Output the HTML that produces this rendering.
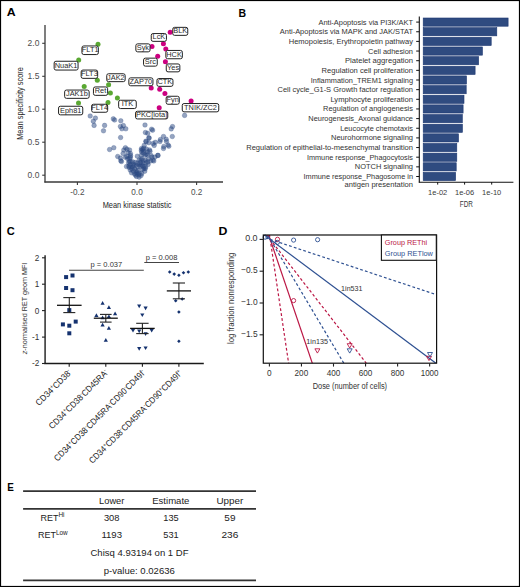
<!DOCTYPE html>
<html><head><meta charset="utf-8"><style>
html,body{margin:0;padding:0;background:#fff;}
body{width:520px;height:587px;overflow:hidden;}
svg{display:block;}
text{font-family:"Liberation Sans",sans-serif;}
</style></head><body>
<svg width="520" height="587" viewBox="0 0 520 587">
<rect x="0" y="0" width="520" height="587" fill="#fff"/>
<text x="6.7" y="16.3" font-size="11.4" fill="#000" textLength="8.9" lengthAdjust="spacingAndGlyphs" font-weight="bold">A</text>
<text x="238.4" y="16.5" font-size="11.4" fill="#000" textLength="7.6" lengthAdjust="spacingAndGlyphs" font-weight="bold">B</text>
<text x="6.8" y="234.8" font-size="11.4" fill="#000" textLength="8.0" lengthAdjust="spacingAndGlyphs" font-weight="bold">C</text>
<text x="218.6" y="234.9" font-size="11.4" fill="#000" textLength="8.9" lengthAdjust="spacingAndGlyphs" font-weight="bold">D</text>
<text x="7.3" y="490.7" font-size="11.4" fill="#000" textLength="6.6" lengthAdjust="spacingAndGlyphs" font-weight="bold">E</text>
<line x1="45.00" y1="25.00" x2="45.00" y2="182.60" stroke="#3a3a3a" stroke-width="1.3"/>
<line x1="44.40" y1="182.00" x2="223.00" y2="182.00" stroke="#3a3a3a" stroke-width="1.3"/>
<line x1="42.20" y1="43.30" x2="45.00" y2="43.30" stroke="#3a3a3a" stroke-width="1.1"/>
<text x="39.4" y="46.3" font-size="8.5" fill="#4d4d4d" text-anchor="end" textLength="11.8" lengthAdjust="spacingAndGlyphs">2.0</text>
<line x1="42.20" y1="76.30" x2="45.00" y2="76.30" stroke="#3a3a3a" stroke-width="1.1"/>
<text x="39.4" y="79.3" font-size="8.5" fill="#4d4d4d" text-anchor="end" textLength="11.8" lengthAdjust="spacingAndGlyphs">1.5</text>
<line x1="42.20" y1="109.20" x2="45.00" y2="109.20" stroke="#3a3a3a" stroke-width="1.1"/>
<text x="39.4" y="112.2" font-size="8.5" fill="#4d4d4d" text-anchor="end" textLength="11.8" lengthAdjust="spacingAndGlyphs">1.0</text>
<line x1="42.20" y1="142.20" x2="45.00" y2="142.20" stroke="#3a3a3a" stroke-width="1.1"/>
<text x="39.4" y="145.2" font-size="8.5" fill="#4d4d4d" text-anchor="end" textLength="11.8" lengthAdjust="spacingAndGlyphs">0.5</text>
<line x1="42.20" y1="175.20" x2="45.00" y2="175.20" stroke="#3a3a3a" stroke-width="1.1"/>
<text x="39.4" y="178.2" font-size="8.5" fill="#4d4d4d" text-anchor="end" textLength="11.8" lengthAdjust="spacingAndGlyphs">0.0</text>
<line x1="77.40" y1="182.00" x2="77.40" y2="184.90" stroke="#3a3a3a" stroke-width="1.1"/>
<text x="77.4" y="194.9" font-size="8.2" fill="#4d4d4d" text-anchor="middle">-0.2</text>
<line x1="137.00" y1="182.00" x2="137.00" y2="184.90" stroke="#3a3a3a" stroke-width="1.1"/>
<text x="137.0" y="194.9" font-size="8.2" fill="#4d4d4d" text-anchor="middle">0.0</text>
<line x1="196.60" y1="182.00" x2="196.60" y2="184.90" stroke="#3a3a3a" stroke-width="1.1"/>
<text x="196.6" y="194.9" font-size="8.2" fill="#4d4d4d" text-anchor="middle">0.2</text>
<text x="137.1" y="208.1" font-size="9.6" fill="#262626" text-anchor="middle" textLength="68.8" lengthAdjust="spacingAndGlyphs">Mean kinase statistic</text>
<text transform="translate(22.6,103.5) rotate(-90)" font-size="9.6" fill="#262626" text-anchor="middle" textLength="72.6" lengthAdjust="spacingAndGlyphs">Mean specificity score</text>
<g fill="#2c4982" fill-opacity="0.5" stroke="#2c4982" stroke-opacity="0.55" stroke-width="0.5">
<circle cx="90.2" cy="116.0" r="2.3"/>
<circle cx="95.4" cy="118.1" r="2.3"/>
<circle cx="93.3" cy="121.2" r="2.3"/>
<circle cx="94.1" cy="125.4" r="2.3"/>
<circle cx="104.6" cy="125.4" r="2.3"/>
<circle cx="103.5" cy="130.8" r="2.3"/>
<circle cx="113.3" cy="118.8" r="2.3"/>
<circle cx="114.6" cy="120.0" r="2.3"/>
<circle cx="120.8" cy="120.8" r="2.3"/>
<circle cx="120.4" cy="126.5" r="2.3"/>
<circle cx="123.4" cy="125.6" r="2.3"/>
<circle cx="121.9" cy="128.8" r="2.3"/>
<circle cx="125.8" cy="128.8" r="2.3"/>
<circle cx="120.6" cy="137.5" r="2.3"/>
<circle cx="145.0" cy="125.0" r="2.3"/>
<circle cx="151.6" cy="129.2" r="2.3"/>
<circle cx="152.6" cy="130.2" r="2.3"/>
<circle cx="145.4" cy="132.5" r="2.3"/>
<circle cx="147.7" cy="133.3" r="2.3"/>
<circle cx="148.8" cy="137.7" r="2.3"/>
<circle cx="184.6" cy="115.4" r="2.3"/>
<circle cx="172.5" cy="126.6" r="2.3"/>
<circle cx="171.2" cy="128.9" r="2.3"/>
<circle cx="172.3" cy="136.5" r="2.3"/>
<circle cx="163.5" cy="136.5" r="2.3"/>
<circle cx="166.2" cy="139.3" r="2.3"/>
<circle cx="166.5" cy="141.5" r="2.3"/>
<circle cx="160.4" cy="139.6" r="2.3"/>
<circle cx="160.0" cy="141.5" r="2.3"/>
<circle cx="149.2" cy="138.1" r="2.3"/>
<circle cx="145.8" cy="141.2" r="2.3"/>
<circle cx="148.8" cy="142.7" r="2.3"/>
<circle cx="153.1" cy="143.5" r="2.3"/>
<circle cx="155.4" cy="142.3" r="2.3"/>
<circle cx="154.2" cy="145.4" r="2.3"/>
<circle cx="163.8" cy="146.5" r="2.3"/>
<circle cx="163.5" cy="148.5" r="2.3"/>
<circle cx="168.1" cy="145.0" r="2.3"/>
<circle cx="168.8" cy="146.2" r="2.3"/>
<circle cx="144.2" cy="145.4" r="2.3"/>
<circle cx="142.7" cy="149.2" r="2.3"/>
<circle cx="141.9" cy="152.3" r="2.3"/>
<circle cx="149.6" cy="150.0" r="2.3"/>
<circle cx="158.1" cy="155.4" r="2.3"/>
<circle cx="137.3" cy="156.2" r="2.3"/>
<circle cx="146.2" cy="141.7" r="2.3"/>
<circle cx="109.6" cy="149.5" r="2.3"/>
<circle cx="113.8" cy="147.7" r="2.3"/>
<circle cx="125.4" cy="147.7" r="2.3"/>
<circle cx="126.9" cy="149.2" r="2.3"/>
<circle cx="129.6" cy="150.0" r="2.3"/>
<circle cx="123.8" cy="150.0" r="2.3"/>
<circle cx="123.1" cy="153.5" r="2.3"/>
<circle cx="128.1" cy="152.7" r="2.3"/>
<circle cx="130.4" cy="153.5" r="2.3"/>
<circle cx="117.7" cy="156.5" r="2.3"/>
<circle cx="120.4" cy="158.1" r="2.3"/>
<circle cx="120.8" cy="160.8" r="2.3"/>
<circle cx="125.4" cy="157.3" r="2.3"/>
<circle cx="127.7" cy="158.8" r="2.3"/>
<circle cx="130.4" cy="157.3" r="2.3"/>
<circle cx="121.5" cy="161.5" r="2.3"/>
<circle cx="126.5" cy="166.5" r="2.3"/>
<circle cx="145.4" cy="168.5" r="2.3"/>
<circle cx="157.7" cy="155.4" r="2.3"/>
<circle cx="153.0" cy="160.0" r="2.3"/>
<circle cx="150.0" cy="151.3" r="2.3"/>
<circle cx="151.9" cy="157.1" r="2.3"/>
<circle cx="146.2" cy="154.2" r="2.3"/>
<circle cx="153.8" cy="161.0" r="2.3"/>
<circle cx="141.3" cy="150.4" r="2.3"/>
<circle cx="141.7" cy="158.5" r="2.3"/>
<circle cx="139.3" cy="164.5" r="2.3"/>
<circle cx="129.2" cy="167.4" r="2.3"/>
<circle cx="128.8" cy="165.9" r="2.3"/>
<circle cx="136.9" cy="174.0" r="2.3"/>
<circle cx="130.6" cy="161.6" r="2.3"/>
<circle cx="146.0" cy="162.9" r="2.3"/>
<circle cx="134.5" cy="173.7" r="2.3"/>
<circle cx="131.8" cy="168.9" r="2.3"/>
<circle cx="141.4" cy="164.6" r="2.3"/>
<circle cx="129.3" cy="161.2" r="2.3"/>
<circle cx="142.3" cy="165.8" r="2.3"/>
<circle cx="134.6" cy="169.0" r="2.3"/>
<circle cx="137.5" cy="163.1" r="2.3"/>
<circle cx="144.7" cy="171.3" r="2.3"/>
<circle cx="139.0" cy="174.9" r="2.3"/>
<circle cx="143.3" cy="162.9" r="2.3"/>
<circle cx="136.8" cy="172.5" r="2.3"/>
<circle cx="131.2" cy="167.0" r="2.3"/>
<circle cx="144.1" cy="168.7" r="2.3"/>
<circle cx="142.6" cy="169.2" r="2.3"/>
<circle cx="140.2" cy="166.4" r="2.3"/>
<circle cx="138.0" cy="170.6" r="2.3"/>
<circle cx="136.1" cy="170.7" r="2.3"/>
<circle cx="133.8" cy="165.5" r="2.3"/>
<circle cx="135.5" cy="175.1" r="2.3"/>
<circle cx="132.9" cy="166.9" r="2.3"/>
<circle cx="140.4" cy="162.4" r="2.3"/>
<circle cx="136.2" cy="165.2" r="2.3"/>
<circle cx="130.2" cy="170.0" r="2.3"/>
<circle cx="130.1" cy="164.5" r="2.3"/>
<circle cx="140.9" cy="160.0" r="2.3"/>
<circle cx="133.3" cy="164.1" r="2.3"/>
<circle cx="137.8" cy="166.9" r="2.3"/>
<circle cx="135.2" cy="162.4" r="2.3"/>
<circle cx="145.4" cy="160.3" r="2.3"/>
<circle cx="139.1" cy="160.0" r="2.3"/>
<circle cx="139.1" cy="177.1" r="2.3"/>
<circle cx="131.5" cy="172.8" r="2.3"/>
<circle cx="139.2" cy="173.0" r="2.3"/>
<circle cx="128.6" cy="162.7" r="2.3"/>
<circle cx="133.4" cy="171.2" r="2.3"/>
<circle cx="148.1" cy="164.5" r="2.3"/>
<circle cx="132.6" cy="161.7" r="2.3"/>
<circle cx="141.1" cy="175.5" r="2.3"/>
<circle cx="145.6" cy="166.8" r="2.3"/>
<circle cx="141.7" cy="173.4" r="2.3"/>
<circle cx="143.8" cy="166.8" r="2.3"/>
<circle cx="136.4" cy="176.4" r="2.3"/>
<circle cx="143.2" cy="160.5" r="2.3"/>
<circle cx="141.5" cy="148.6" r="2.3"/>
<circle cx="145.1" cy="155.3" r="2.3"/>
<circle cx="155.0" cy="157.0" r="2.3"/>
<circle cx="147.9" cy="161.9" r="2.3"/>
<circle cx="143.5" cy="151.0" r="2.3"/>
<circle cx="143.6" cy="153.1" r="2.3"/>
<circle cx="147.5" cy="155.0" r="2.3"/>
<circle cx="146.5" cy="149.1" r="2.3"/>
<circle cx="151.1" cy="155.5" r="2.3"/>
<circle cx="148.4" cy="159.3" r="2.3"/>
<circle cx="141.2" cy="155.5" r="2.3"/>
<circle cx="150.7" cy="160.9" r="2.3"/>
<circle cx="147.7" cy="151.8" r="2.3"/>
<circle cx="143.8" cy="148.2" r="2.3"/>
<circle cx="130.6" cy="155.6" r="2.3"/>
<circle cx="126.8" cy="156.4" r="2.3"/>
<circle cx="129.7" cy="158.5" r="2.3"/>
</g>
<circle cx="98" cy="44.2" r="2.5" fill="#5aa832"/>
<circle cx="78.7" cy="59.9" r="2.5" fill="#5aa832"/>
<circle cx="97.3" cy="80.2" r="2.5" fill="#5aa832"/>
<circle cx="108.6" cy="84.7" r="2.5" fill="#5aa832"/>
<circle cx="84.2" cy="86.5" r="2.5" fill="#5aa832"/>
<circle cx="110.4" cy="93.1" r="2.5" fill="#5aa832"/>
<circle cx="117.4" cy="98" r="2.5" fill="#5aa832"/>
<circle cx="78.5" cy="103" r="2.5" fill="#5aa832"/>
<circle cx="108" cy="102.6" r="2.5" fill="#5aa832"/>
<circle cx="170.2" cy="32.2" r="2.5" fill="#cc0080"/>
<circle cx="163.4" cy="43.8" r="2.5" fill="#cc0080"/>
<circle cx="165.8" cy="48.9" r="2.5" fill="#cc0080"/>
<circle cx="152" cy="46.5" r="2.5" fill="#cc0080"/>
<circle cx="157.7" cy="56.2" r="2.5" fill="#cc0080"/>
<circle cx="165.4" cy="61.8" r="2.5" fill="#cc0080"/>
<circle cx="151.2" cy="88" r="2.5" fill="#cc0080"/>
<circle cx="159.7" cy="89.3" r="2.5" fill="#cc0080"/>
<circle cx="164.9" cy="93.5" r="2.5" fill="#cc0080"/>
<circle cx="191.1" cy="101.1" r="2.5" fill="#cc0080"/>
<circle cx="159.2" cy="107.8" r="2.5" fill="#cc0080"/>
<rect x="81.95" y="45.95" width="16.40" height="8.60" rx="1.8" fill="#fff" stroke="#222" stroke-width="1.0"/>
<text x="90.2" y="52.2" font-size="7.4" fill="#2a2a2a" text-anchor="middle">FLT1</text>
<rect x="54.15" y="61.25" width="23.90" height="8.80" rx="1.8" fill="#fff" stroke="#222" stroke-width="1.0"/>
<text x="66.1" y="67.6" font-size="7.4" fill="#2a2a2a" text-anchor="middle">NuaK1</text>
<rect x="81.15" y="70.05" width="16.50" height="8.30" rx="1.8" fill="#fff" stroke="#222" stroke-width="1.0"/>
<text x="89.4" y="76.1" font-size="7.4" fill="#2a2a2a" text-anchor="middle">FLT3</text>
<rect x="106.75" y="73.75" width="18.40" height="7.90" rx="1.8" fill="#fff" stroke="#222" stroke-width="1.0"/>
<text x="115.9" y="79.6" font-size="7.4" fill="#2a2a2a" text-anchor="middle">JAK2</text>
<rect x="64.65" y="90.05" width="24.50" height="8.30" rx="1.8" fill="#fff" stroke="#222" stroke-width="1.0"/>
<text x="76.9" y="96.1" font-size="7.4" fill="#2a2a2a" text-anchor="middle">JAK1b</text>
<rect x="93.45" y="86.95" width="14.20" height="8.40" rx="1.8" fill="#fff" stroke="#222" stroke-width="1.0"/>
<text x="100.5" y="93.1" font-size="7.4" fill="#2a2a2a" text-anchor="middle">Ret</text>
<rect x="58.55" y="106.25" width="24.20" height="8.60" rx="1.8" fill="#fff" stroke="#222" stroke-width="1.0"/>
<text x="70.7" y="112.5" font-size="7.4" fill="#2a2a2a" text-anchor="middle">Eph81</text>
<rect x="91.65" y="104.25" width="16.00" height="8.00" rx="1.8" fill="#fff" stroke="#222" stroke-width="1.0"/>
<text x="99.7" y="110.2" font-size="7.4" fill="#2a2a2a" text-anchor="middle">FLT4</text>
<rect x="118.65" y="100.25" width="17.60" height="8.30" rx="1.8" fill="#fff" stroke="#222" stroke-width="1.0"/>
<text x="127.4" y="106.4" font-size="7.4" fill="#2a2a2a" text-anchor="middle">ITK</text>
<rect x="172.75" y="27.35" width="15.00" height="8.00" rx="1.8" fill="#fff" stroke="#222" stroke-width="1.0"/>
<text x="180.2" y="33.3" font-size="7.4" fill="#2a2a2a" text-anchor="middle">BLK</text>
<rect x="151.25" y="33.55" width="15.20" height="7.80" rx="1.8" fill="#fff" stroke="#222" stroke-width="1.0"/>
<text x="158.9" y="39.4" font-size="7.4" fill="#2a2a2a" text-anchor="middle">LcK</text>
<rect x="135.85" y="43.85" width="14.20" height="8.00" rx="1.8" fill="#fff" stroke="#222" stroke-width="1.0"/>
<text x="142.9" y="49.8" font-size="7.4" fill="#2a2a2a" text-anchor="middle">Syk</text>
<rect x="143.55" y="58.15" width="13.70" height="8.00" rx="1.8" fill="#fff" stroke="#222" stroke-width="1.0"/>
<text x="150.4" y="64.1" font-size="7.4" fill="#2a2a2a" text-anchor="middle">Src</text>
<rect x="165.85" y="50.45" width="16.50" height="8.30" rx="1.8" fill="#fff" stroke="#222" stroke-width="1.0"/>
<text x="174.1" y="56.6" font-size="7.4" fill="#2a2a2a" text-anchor="middle">HCK</text>
<rect x="166.25" y="63.95" width="13.60" height="7.90" rx="1.8" fill="#fff" stroke="#222" stroke-width="1.0"/>
<text x="173.1" y="69.9" font-size="7.4" fill="#2a2a2a" text-anchor="middle">Yes</text>
<rect x="128.85" y="77.85" width="24.10" height="7.90" rx="1.8" fill="#fff" stroke="#222" stroke-width="1.0"/>
<text x="140.9" y="83.8" font-size="7.4" fill="#2a2a2a" text-anchor="middle">ZAP70</text>
<rect x="156.95" y="78.55" width="16.00" height="7.80" rx="1.8" fill="#fff" stroke="#222" stroke-width="1.0"/>
<text x="164.9" y="84.4" font-size="7.4" fill="#2a2a2a" text-anchor="middle">CTK</text>
<rect x="166.15" y="96.25" width="13.10" height="8.00" rx="1.8" fill="#fff" stroke="#222" stroke-width="1.0"/>
<text x="172.7" y="102.2" font-size="7.4" fill="#2a2a2a" text-anchor="middle">Fyn</text>
<rect x="182.25" y="103.55" width="36.50" height="8.30" rx="1.8" fill="#fff" stroke="#222" stroke-width="1.0"/>
<text x="200.5" y="109.6" font-size="7.4" fill="#2a2a2a" text-anchor="middle">TNIK/ZC2</text>
<rect x="135.55" y="111.25" width="32.20" height="7.70" rx="1.8" fill="#fff" stroke="#222" stroke-width="1.0"/>
<text x="151.6" y="117.0" font-size="7.4" fill="#2a2a2a" text-anchor="middle">PKC[iota]</text>
<line x1="419.30" y1="16.60" x2="419.30" y2="182.60" stroke="#111" stroke-width="1.1"/>
<line x1="418.80" y1="182.30" x2="513.40" y2="182.30" stroke="#111" stroke-width="1.1"/>
<rect x="423.2" y="18.00" width="84.90" height="8.2" fill="#2f4b80" stroke="#1b3670" stroke-width="0.6"/>
<line x1="416.20" y1="22.10" x2="419.30" y2="22.10" stroke="#111" stroke-width="1"/>
<text x="413.0" y="24.5" font-size="7.5" fill="#333" text-anchor="end" textLength="94.5" lengthAdjust="spacingAndGlyphs">Anti-Apoptosis via PI3K/AKT</text>
<rect x="423.2" y="27.65" width="73.60" height="8.2" fill="#2f4b80" stroke="#1b3670" stroke-width="0.6"/>
<line x1="416.20" y1="31.75" x2="419.30" y2="31.75" stroke="#111" stroke-width="1"/>
<text x="413.0" y="34.2" font-size="7.5" fill="#333" text-anchor="end" textLength="133.2" lengthAdjust="spacingAndGlyphs">Anti-Apoptosis via MAPK and JAK/STAT</text>
<rect x="423.2" y="37.30" width="68.00" height="8.2" fill="#2f4b80" stroke="#1b3670" stroke-width="0.6"/>
<line x1="416.20" y1="41.40" x2="419.30" y2="41.40" stroke="#111" stroke-width="1"/>
<text x="413.0" y="43.8" font-size="7.5" fill="#333" text-anchor="end" textLength="124.3" lengthAdjust="spacingAndGlyphs">Hemopoiesis, Erythropoietin pathway</text>
<rect x="423.2" y="46.95" width="59.20" height="8.2" fill="#2f4b80" stroke="#1b3670" stroke-width="0.6"/>
<line x1="416.20" y1="51.05" x2="419.30" y2="51.05" stroke="#111" stroke-width="1"/>
<text x="413.0" y="53.5" font-size="7.5" fill="#333" text-anchor="end" textLength="44.9" lengthAdjust="spacingAndGlyphs">Cell adhesion</text>
<rect x="423.2" y="56.60" width="55.40" height="8.2" fill="#2f4b80" stroke="#1b3670" stroke-width="0.6"/>
<line x1="416.20" y1="60.70" x2="419.30" y2="60.70" stroke="#111" stroke-width="1"/>
<text x="413.0" y="63.1" font-size="7.5" fill="#333" text-anchor="end" textLength="68.0" lengthAdjust="spacingAndGlyphs">Platelet aggregation</text>
<rect x="423.2" y="66.25" width="51.90" height="8.2" fill="#2f4b80" stroke="#1b3670" stroke-width="0.6"/>
<line x1="416.20" y1="70.35" x2="419.30" y2="70.35" stroke="#111" stroke-width="1"/>
<text x="413.0" y="72.8" font-size="7.5" fill="#333" text-anchor="end" textLength="91.4" lengthAdjust="spacingAndGlyphs">Regulation cell proliferation</text>
<rect x="423.2" y="75.90" width="43.30" height="8.2" fill="#2f4b80" stroke="#1b3670" stroke-width="0.6"/>
<line x1="416.20" y1="80.00" x2="419.30" y2="80.00" stroke="#111" stroke-width="1"/>
<text x="413.0" y="82.5" font-size="7.5" fill="#333" text-anchor="end" textLength="102.2" lengthAdjust="spacingAndGlyphs">Inflammation_TREM1 signaling</text>
<rect x="423.2" y="85.55" width="43.00" height="8.2" fill="#2f4b80" stroke="#1b3670" stroke-width="0.6"/>
<line x1="416.20" y1="89.65" x2="419.30" y2="89.65" stroke="#111" stroke-width="1"/>
<text x="413.0" y="92.1" font-size="7.5" fill="#333" text-anchor="end" textLength="135.5" lengthAdjust="spacingAndGlyphs">Cell cycle_G1-S Growth factor regulation</text>
<rect x="423.2" y="95.20" width="40.80" height="8.2" fill="#2f4b80" stroke="#1b3670" stroke-width="0.6"/>
<line x1="416.20" y1="99.30" x2="419.30" y2="99.30" stroke="#111" stroke-width="1"/>
<text x="413.0" y="101.8" font-size="7.5" fill="#333" text-anchor="end" textLength="82.6" lengthAdjust="spacingAndGlyphs">Lymphocyte proliferation</text>
<rect x="423.2" y="104.85" width="39.90" height="8.2" fill="#2f4b80" stroke="#1b3670" stroke-width="0.6"/>
<line x1="416.20" y1="108.95" x2="419.30" y2="108.95" stroke="#111" stroke-width="1"/>
<text x="413.0" y="111.4" font-size="7.5" fill="#333" text-anchor="end" textLength="89.9" lengthAdjust="spacingAndGlyphs">Regulation of angiogenesis</text>
<rect x="423.2" y="114.50" width="39.10" height="8.2" fill="#2f4b80" stroke="#1b3670" stroke-width="0.6"/>
<line x1="416.20" y1="118.60" x2="419.30" y2="118.60" stroke="#111" stroke-width="1"/>
<text x="413.0" y="121.1" font-size="7.5" fill="#333" text-anchor="end" textLength="104.7" lengthAdjust="spacingAndGlyphs">Neurogenesis_Axonal guidance</text>
<rect x="423.2" y="124.15" width="39.20" height="8.2" fill="#2f4b80" stroke="#1b3670" stroke-width="0.6"/>
<line x1="416.20" y1="128.25" x2="419.30" y2="128.25" stroke="#111" stroke-width="1"/>
<text x="413.0" y="130.8" font-size="7.5" fill="#333" text-anchor="end" textLength="72.8" lengthAdjust="spacingAndGlyphs">Leucocyte chemotaxis</text>
<rect x="423.2" y="133.80" width="35.30" height="8.2" fill="#2f4b80" stroke="#1b3670" stroke-width="0.6"/>
<line x1="416.20" y1="137.90" x2="419.30" y2="137.90" stroke="#111" stroke-width="1"/>
<text x="413.0" y="140.4" font-size="7.5" fill="#333" text-anchor="end" textLength="82.0" lengthAdjust="spacingAndGlyphs">Neurohormone signaling</text>
<rect x="423.2" y="143.45" width="33.60" height="8.2" fill="#2f4b80" stroke="#1b3670" stroke-width="0.6"/>
<line x1="416.20" y1="147.55" x2="419.30" y2="147.55" stroke="#111" stroke-width="1"/>
<text x="413.0" y="150.1" font-size="7.5" fill="#333" text-anchor="end" textLength="166.8" lengthAdjust="spacingAndGlyphs">Regulation of epithelial-to-mesenchymal transition</text>
<rect x="423.2" y="153.10" width="33.60" height="8.2" fill="#2f4b80" stroke="#1b3670" stroke-width="0.6"/>
<line x1="416.20" y1="157.20" x2="419.30" y2="157.20" stroke="#111" stroke-width="1"/>
<text x="413.0" y="159.7" font-size="7.5" fill="#333" text-anchor="end" textLength="106.1" lengthAdjust="spacingAndGlyphs">Immune response_Phagocytosis</text>
<rect x="423.2" y="162.75" width="33.00" height="8.2" fill="#2f4b80" stroke="#1b3670" stroke-width="0.6"/>
<line x1="416.20" y1="166.85" x2="419.30" y2="166.85" stroke="#111" stroke-width="1"/>
<text x="413.0" y="169.4" font-size="7.5" fill="#333" text-anchor="end" textLength="58.2" lengthAdjust="spacingAndGlyphs">NOTCH signaling</text>
<rect x="423.2" y="172.40" width="32.40" height="8.2" fill="#2f4b80" stroke="#1b3670" stroke-width="0.6"/>
<line x1="416.20" y1="176.50" x2="419.30" y2="176.50" stroke="#111" stroke-width="1"/>
<text x="413.0" y="179.1" font-size="7.5" fill="#333" text-anchor="end" textLength="109.5" lengthAdjust="spacingAndGlyphs">Immune response_Phagosome in</text>
<text x="413.0" y="187.3" font-size="7.5" fill="#333" text-anchor="end" textLength="68.5" lengthAdjust="spacingAndGlyphs">antigen presentation</text>
<line x1="437.70" y1="182.10" x2="437.70" y2="184.60" stroke="#111" stroke-width="1"/>
<text x="437.7" y="194.8" font-size="7.5" fill="#3a3a3a" text-anchor="middle" textLength="19.2" lengthAdjust="spacingAndGlyphs">1e-02</text>
<line x1="464.60" y1="182.10" x2="464.60" y2="184.60" stroke="#111" stroke-width="1"/>
<text x="464.6" y="194.8" font-size="7.5" fill="#3a3a3a" text-anchor="middle" textLength="19.2" lengthAdjust="spacingAndGlyphs">1e-06</text>
<line x1="491.70" y1="182.10" x2="491.70" y2="184.60" stroke="#111" stroke-width="1"/>
<text x="491.7" y="194.8" font-size="7.5" fill="#3a3a3a" text-anchor="middle" textLength="19.2" lengthAdjust="spacingAndGlyphs">1e-10</text>
<text x="466.3" y="207.3" font-size="8.8" fill="#3a3a3a" text-anchor="middle" textLength="13.1" lengthAdjust="spacingAndGlyphs">FDR</text>
<line x1="45.10" y1="255.30" x2="45.10" y2="364.10" stroke="#444" stroke-width="1.7"/>
<line x1="44.30" y1="363.50" x2="203.80" y2="363.50" stroke="#1a1a1a" stroke-width="1.4"/>
<line x1="42.00" y1="257.80" x2="45.10" y2="257.80" stroke="#222" stroke-width="1.1"/>
<text x="39.4" y="260.7" font-size="8.2" fill="#333" text-anchor="end">2</text>
<line x1="42.00" y1="284.20" x2="45.10" y2="284.20" stroke="#222" stroke-width="1.1"/>
<text x="39.4" y="287.1" font-size="8.2" fill="#333" text-anchor="end">1</text>
<line x1="42.00" y1="310.60" x2="45.10" y2="310.60" stroke="#222" stroke-width="1.1"/>
<text x="39.4" y="313.5" font-size="8.2" fill="#333" text-anchor="end">0</text>
<line x1="42.00" y1="337.10" x2="45.10" y2="337.10" stroke="#222" stroke-width="1.1"/>
<text x="39.4" y="340.0" font-size="8.2" fill="#333" text-anchor="end">-1</text>
<line x1="42.00" y1="363.50" x2="45.10" y2="363.50" stroke="#222" stroke-width="1.1"/>
<text x="39.4" y="366.4" font-size="8.2" fill="#333" text-anchor="end">-2</text>
<line x1="69.20" y1="363.50" x2="69.20" y2="366.80" stroke="#1a1a1a" stroke-width="1.1"/>
<line x1="105.80" y1="363.50" x2="105.80" y2="366.80" stroke="#1a1a1a" stroke-width="1.1"/>
<line x1="142.40" y1="363.50" x2="142.40" y2="366.80" stroke="#1a1a1a" stroke-width="1.1"/>
<line x1="178.90" y1="363.50" x2="178.90" y2="366.80" stroke="#1a1a1a" stroke-width="1.1"/>
<text transform="translate(26.6,308.5) rotate(-90)" font-size="7.6" fill="#333" text-anchor="middle" textLength="91.6" lengthAdjust="spacingAndGlyphs"><tspan font-style="italic">z</tspan>-normalised RET geom MFI</text>
<rect x="64.10" y="275.10" width="4" height="4" fill="#15326f"/>
<rect x="70.50" y="273.50" width="4" height="4" fill="#15326f"/>
<rect x="64.10" y="286.00" width="4" height="4" fill="#15326f"/>
<rect x="70.50" y="288.20" width="4" height="4" fill="#15326f"/>
<rect x="67.30" y="308.10" width="4" height="4" fill="#15326f"/>
<rect x="60.90" y="322.40" width="4" height="4" fill="#15326f"/>
<rect x="67.30" y="323.70" width="4" height="4" fill="#15326f"/>
<rect x="73.70" y="319.60" width="4" height="4" fill="#15326f"/>
<rect x="67.30" y="331.30" width="4" height="4" fill="#15326f"/>
<path d="M102.60,301.00 L104.70,304.70 L100.50,304.70Z" fill="#15326f"/>
<path d="M108.90,305.30 L111.00,309.00 L106.80,309.00Z" fill="#15326f"/>
<path d="M96.40,313.30 L98.50,317.00 L94.30,317.00Z" fill="#15326f"/>
<path d="M115.10,311.50 L117.20,315.20 L113.00,315.20Z" fill="#15326f"/>
<path d="M102.60,315.50 L104.70,319.20 L100.50,319.20Z" fill="#15326f"/>
<path d="M108.90,314.40 L111.00,318.10 L106.80,318.10Z" fill="#15326f"/>
<path d="M102.60,322.70 L104.70,326.40 L100.50,326.40Z" fill="#15326f"/>
<path d="M108.90,326.10 L111.00,329.80 L106.80,329.80Z" fill="#15326f"/>
<path d="M105.80,338.00 L107.90,341.70 L103.70,341.70Z" fill="#15326f"/>
<path d="M137.10,304.50 L141.30,304.50 L139.20,308.20Z" fill="#15326f"/>
<path d="M143.50,306.60 L147.70,306.60 L145.60,310.30Z" fill="#15326f"/>
<path d="M140.20,313.40 L144.40,313.40 L142.30,317.10Z" fill="#15326f"/>
<path d="M130.90,328.90 L135.10,328.90 L133.00,332.60Z" fill="#15326f"/>
<path d="M137.10,329.60 L141.30,329.60 L139.20,333.30Z" fill="#15326f"/>
<path d="M143.50,332.30 L147.70,332.30 L145.60,336.00Z" fill="#15326f"/>
<path d="M149.60,328.90 L153.80,328.90 L151.70,332.60Z" fill="#15326f"/>
<path d="M137.10,347.10 L141.30,347.10 L139.20,350.80Z" fill="#15326f"/>
<path d="M143.50,346.40 L147.70,346.40 L145.60,350.10Z" fill="#15326f"/>
<path d="M169.70,270.20 L171.50,272.00 L169.70,273.80 L167.90,272.00Z" fill="#15326f"/>
<path d="M174.20,272.30 L176.00,274.10 L174.20,275.90 L172.40,274.10Z" fill="#15326f"/>
<path d="M178.90,273.40 L180.70,275.20 L178.90,277.00 L177.10,275.20Z" fill="#15326f"/>
<path d="M183.50,271.00 L185.30,272.80 L183.50,274.60 L181.70,272.80Z" fill="#15326f"/>
<path d="M188.30,270.20 L190.10,272.00 L188.30,273.80 L186.50,272.00Z" fill="#15326f"/>
<path d="M175.70,299.00 L177.50,300.80 L175.70,302.60 L173.90,300.80Z" fill="#15326f"/>
<path d="M182.20,297.20 L184.00,299.00 L182.20,300.80 L180.40,299.00Z" fill="#15326f"/>
<path d="M178.90,310.20 L180.70,312.00 L178.90,313.80 L177.10,312.00Z" fill="#15326f"/>
<path d="M178.90,339.40 L180.70,341.20 L178.90,343.00 L177.10,341.20Z" fill="#15326f"/>
<line x1="69.30" y1="297.60" x2="69.30" y2="312.60" stroke="#222" stroke-width="1.1"/>
<line x1="63.30" y1="297.60" x2="75.30" y2="297.60" stroke="#222" stroke-width="1.1"/>
<line x1="63.30" y1="312.60" x2="75.30" y2="312.60" stroke="#222" stroke-width="1.1"/>
<line x1="57.00" y1="305.30" x2="81.60" y2="305.30" stroke="#111" stroke-width="1.3"/>
<line x1="105.80" y1="314.40" x2="105.80" y2="322.10" stroke="#222" stroke-width="1.1"/>
<line x1="100.00" y1="314.40" x2="111.60" y2="314.40" stroke="#222" stroke-width="1.1"/>
<line x1="100.00" y1="322.10" x2="111.60" y2="322.10" stroke="#222" stroke-width="1.1"/>
<line x1="93.80" y1="318.20" x2="117.80" y2="318.20" stroke="#111" stroke-width="1.3"/>
<line x1="142.40" y1="323.30" x2="142.40" y2="333.60" stroke="#222" stroke-width="1.1"/>
<line x1="136.20" y1="323.30" x2="148.60" y2="323.30" stroke="#222" stroke-width="1.1"/>
<line x1="136.20" y1="333.60" x2="148.60" y2="333.60" stroke="#222" stroke-width="1.1"/>
<line x1="130.10" y1="328.40" x2="154.70" y2="328.40" stroke="#111" stroke-width="1.3"/>
<line x1="178.90" y1="283.00" x2="178.90" y2="298.80" stroke="#222" stroke-width="1.1"/>
<line x1="172.80" y1="283.00" x2="185.00" y2="283.00" stroke="#222" stroke-width="1.1"/>
<line x1="172.80" y1="298.80" x2="185.00" y2="298.80" stroke="#222" stroke-width="1.1"/>
<line x1="166.80" y1="290.90" x2="191.00" y2="290.90" stroke="#111" stroke-width="1.3"/>
<line x1="69.00" y1="270.30" x2="143.80" y2="270.30" stroke="#444" stroke-width="1.1"/>
<line x1="144.30" y1="262.50" x2="179.00" y2="262.50" stroke="#444" stroke-width="1.1"/>
<text x="106.4" y="267.3" font-size="7.0" fill="#333" text-anchor="middle" textLength="31.6" lengthAdjust="spacingAndGlyphs">p = 0.037</text>
<text x="161.6" y="259.7" font-size="7.0" fill="#333" text-anchor="middle" textLength="31.6" lengthAdjust="spacingAndGlyphs">p = 0.008</text>
<text transform="translate(72.3,373.0) rotate(-45)" font-size="8.8" fill="#1a1a1a" text-anchor="end" textLength="47" lengthAdjust="spacingAndGlyphs">CD34<tspan dy="-3.2" font-size="5.5">+</tspan><tspan dy="3.2">CD38</tspan><tspan dy="-3.2" font-size="5.5">-</tspan></text>
<text transform="translate(108.8,373.0) rotate(-45)" font-size="8.8" fill="#1a1a1a" text-anchor="end" textLength="80" lengthAdjust="spacingAndGlyphs">CD34<tspan dy="-3.2" font-size="5.5">+</tspan><tspan dy="3.2">CD38</tspan><tspan dy="-3.2" font-size="5.5">-</tspan><tspan dy="3.2">CD45RA</tspan><tspan dy="-3.2" font-size="5.5">-</tspan></text>
<text transform="translate(145.9,373.3) rotate(-45)" font-size="8.8" fill="#1a1a1a" text-anchor="end" textLength="125" lengthAdjust="spacingAndGlyphs">CD34<tspan dy="-3.2" font-size="5.5">+</tspan><tspan dy="3.2">CD38</tspan><tspan dy="-3.2" font-size="5.5">-</tspan><tspan dy="3.2">CD45RA</tspan><tspan dy="-3.2" font-size="5.5">-</tspan><tspan dy="3.2">CD90</tspan><tspan dy="-3.2" font-size="5.5">-</tspan><tspan dy="3.2">CD49f</tspan><tspan dy="-3.2" font-size="5.5">-</tspan></text>
<text transform="translate(182.9,373.6) rotate(-45)" font-size="8.8" fill="#1a1a1a" text-anchor="end" textLength="128" lengthAdjust="spacingAndGlyphs">CD34<tspan dy="-3.2" font-size="5.5">+</tspan><tspan dy="3.2">CD38</tspan><tspan dy="-3.2" font-size="5.5">-</tspan><tspan dy="3.2">CD45RA</tspan><tspan dy="-3.2" font-size="5.5">-</tspan><tspan dy="3.2">CD90</tspan><tspan dy="-3.2" font-size="5.5">+</tspan><tspan dy="3.2">CD49f</tspan><tspan dy="-3.2" font-size="5.5">+</tspan></text>
<defs><clipPath id="dclip"><rect x="263.3" y="235" width="173" height="128.2"/></clipPath></defs>
<g clip-path="url(#dclip)" fill="none" stroke-width="1.2">
<line x1="260.58" y1="211.13" x2="462.50" y2="804.73" stroke="#bb1745"/>
<line x1="260.58" y1="227.01" x2="462.50" y2="487.19" stroke="#bb1745" stroke-dasharray="2.8,2.2"/>
<line x1="260.58" y1="174.72" x2="462.50" y2="1532.96" stroke="#bb1745" stroke-dasharray="2.8,2.2"/>
<line x1="260.58" y1="232.21" x2="462.50" y2="383.13" stroke="#2f5192"/>
<line x1="260.58" y1="236.20" x2="462.50" y2="303.37" stroke="#2f5192" stroke-dasharray="2.8,2.2"/>
<line x1="260.58" y1="223.23" x2="462.50" y2="562.79" stroke="#2f5192" stroke-dasharray="2.8,2.2"/>
</g>
<circle cx="277.5" cy="239.3" r="2.1" fill="none" stroke="#bb1745" stroke-width="0.9"/>
<circle cx="293.6" cy="300.6" r="2.1" fill="none" stroke="#bb1745" stroke-width="0.9"/>
<circle cx="265.2" cy="237.2" r="2.1" fill="none" stroke="#2f5192" stroke-width="0.9"/>
<circle cx="277.3" cy="242.4" r="2.1" fill="none" stroke="#2f5192" stroke-width="0.9"/>
<circle cx="293.6" cy="240.1" r="2.1" fill="none" stroke="#2f5192" stroke-width="0.9"/>
<circle cx="317.6" cy="239.7" r="2.1" fill="none" stroke="#2f5192" stroke-width="0.9"/>
<path d="M314.90,348.80 L319.90,348.80 L317.40,353.10Z" fill="none" stroke="#bb1745" stroke-width="0.9"/>
<path d="M347.20,343.70 L352.20,343.70 L349.70,348.00Z" fill="none" stroke="#bb1745" stroke-width="0.9"/>
<path d="M426.50,356.30 L431.50,356.30 L429.00,360.60Z" fill="none" stroke="#bb1745" stroke-width="0.9"/>
<path d="M347.20,348.80 L352.20,348.80 L349.70,353.10Z" fill="none" stroke="#2f5192" stroke-width="0.9"/>
<path d="M427.50,352.50 L432.50,352.50 L430.00,356.80Z" fill="none" stroke="#2f5192" stroke-width="0.9"/>
<rect x="263.3" y="235" width="173.3" height="128.2" fill="none" stroke="#111" stroke-width="1.2"/>
<rect x="381.4" y="235" width="54.9" height="25.3" fill="#fff" stroke="#111" stroke-width="1.1"/>
<text x="384.8" y="244.5" font-size="7.3" fill="#bb1745" textLength="42.4" lengthAdjust="spacingAndGlyphs">Group REThi</text>
<text x="384.8" y="255.6" font-size="7.3" fill="#2f5192" textLength="48.1" lengthAdjust="spacingAndGlyphs">Group RETlow</text>
<line x1="259.60" y1="239.40" x2="263.30" y2="239.40" stroke="#222" stroke-width="1.1"/>
<text x="257.6" y="241.4" font-size="9.2" fill="#333" text-anchor="end" textLength="12.4" lengthAdjust="spacingAndGlyphs">0.0</text>
<line x1="259.60" y1="271.20" x2="263.30" y2="271.20" stroke="#222" stroke-width="1.1"/>
<text x="257.6" y="273.2" font-size="9.2" fill="#333" text-anchor="end" textLength="16.6" lengthAdjust="spacingAndGlyphs">−0.5</text>
<line x1="259.60" y1="303.00" x2="263.30" y2="303.00" stroke="#222" stroke-width="1.1"/>
<text x="257.6" y="305.0" font-size="9.2" fill="#333" text-anchor="end" textLength="16.6" lengthAdjust="spacingAndGlyphs">−1.0</text>
<line x1="259.60" y1="334.80" x2="263.30" y2="334.80" stroke="#222" stroke-width="1.1"/>
<text x="257.6" y="336.8" font-size="9.2" fill="#333" text-anchor="end" textLength="16.6" lengthAdjust="spacingAndGlyphs">−1.5</text>
<line x1="269.40" y1="363.20" x2="269.40" y2="366.60" stroke="#222" stroke-width="1.1"/>
<text x="269.4" y="376.4" font-size="9.2" fill="#333" text-anchor="middle" textLength="4.6" lengthAdjust="spacingAndGlyphs">0</text>
<line x1="301.45" y1="363.20" x2="301.45" y2="366.60" stroke="#222" stroke-width="1.1"/>
<text x="301.4" y="376.4" font-size="9.2" fill="#333" text-anchor="middle" textLength="13.6" lengthAdjust="spacingAndGlyphs">200</text>
<line x1="333.50" y1="363.20" x2="333.50" y2="366.60" stroke="#222" stroke-width="1.1"/>
<text x="333.5" y="376.4" font-size="9.2" fill="#333" text-anchor="middle" textLength="13.6" lengthAdjust="spacingAndGlyphs">400</text>
<line x1="365.55" y1="363.20" x2="365.55" y2="366.60" stroke="#222" stroke-width="1.1"/>
<text x="365.5" y="376.4" font-size="9.2" fill="#333" text-anchor="middle" textLength="13.6" lengthAdjust="spacingAndGlyphs">600</text>
<line x1="397.60" y1="363.20" x2="397.60" y2="366.60" stroke="#222" stroke-width="1.1"/>
<text x="397.6" y="376.4" font-size="9.2" fill="#333" text-anchor="middle" textLength="13.6" lengthAdjust="spacingAndGlyphs">800</text>
<line x1="429.65" y1="363.20" x2="429.65" y2="366.60" stroke="#222" stroke-width="1.1"/>
<text x="429.6" y="376.4" font-size="9.2" fill="#333" text-anchor="middle" textLength="17.8" lengthAdjust="spacingAndGlyphs">1000</text>
<text x="349.9" y="389.2" font-size="9.6" fill="#333" text-anchor="middle" textLength="74.4" lengthAdjust="spacingAndGlyphs">Dose (number of cells)</text>
<text transform="translate(234.0,298.4) rotate(-90)" font-size="9.6" fill="#333" text-anchor="middle" textLength="91.4" lengthAdjust="spacingAndGlyphs">log fraction nonresponding</text>
<text x="341.1" y="290.6" font-size="7.8" fill="#333" textLength="21.4" lengthAdjust="spacingAndGlyphs">1in531</text>
<text x="306.3" y="343.5" font-size="7.8" fill="#333" textLength="21.6" lengthAdjust="spacingAndGlyphs">1in135</text>
<line x1="23.10" y1="491.10" x2="256.00" y2="491.10" stroke="#333" stroke-width="1.6"/>
<line x1="23.10" y1="508.90" x2="256.00" y2="508.90" stroke="#333" stroke-width="1.6"/>
<line x1="23.10" y1="580.40" x2="256.00" y2="580.40" stroke="#333" stroke-width="1.6"/>
<text x="111.7" y="503.8" font-size="9" fill="#222" text-anchor="middle" textLength="25.3" lengthAdjust="spacingAndGlyphs">Lower</text>
<text x="170.8" y="503.8" font-size="9" fill="#222" text-anchor="middle" textLength="37.2" lengthAdjust="spacingAndGlyphs">Estimate</text>
<text x="229.9" y="503.8" font-size="9" fill="#222" text-anchor="middle" textLength="26.8" lengthAdjust="spacingAndGlyphs">Upper</text>
<text x="40.4" y="520.8" font-size="9" fill="#222">RET<tspan dy="-3.6" font-size="6.4">Hi</tspan></text>
<text x="37.9" y="538.2" font-size="9" fill="#222">RET<tspan dy="-3.6" font-size="6.4">Low</tspan></text>
<text x="111.7" y="520.8" font-size="9" fill="#222" text-anchor="middle" textLength="15.6" lengthAdjust="spacingAndGlyphs">308</text>
<text x="171.0" y="520.8" font-size="9" fill="#222" text-anchor="middle" textLength="15.4" lengthAdjust="spacingAndGlyphs">135</text>
<text x="229.9" y="520.8" font-size="9" fill="#222" text-anchor="middle" textLength="11.1" lengthAdjust="spacingAndGlyphs">59</text>
<text x="111.7" y="538.2" font-size="9" fill="#222" text-anchor="middle" textLength="20.6" lengthAdjust="spacingAndGlyphs">1193</text>
<text x="171.0" y="538.2" font-size="9" fill="#222" text-anchor="middle" textLength="15.4" lengthAdjust="spacingAndGlyphs">531</text>
<text x="229.9" y="538.2" font-size="9" fill="#222" text-anchor="middle" textLength="16.9" lengthAdjust="spacingAndGlyphs">236</text>
<text x="139.5" y="555.8" font-size="9" fill="#222" text-anchor="middle" textLength="98.1" lengthAdjust="spacingAndGlyphs">Chisq 4.93194 on 1 DF</text>
<text x="139.3" y="573.5" font-size="9" fill="#222" text-anchor="middle" textLength="71.0" lengthAdjust="spacingAndGlyphs">p-value: 0.02636</text>
<rect x="0.5" y="0.5" width="519" height="586" fill="none" stroke="#000" stroke-width="1.2"/>
</svg>
</body></html>
